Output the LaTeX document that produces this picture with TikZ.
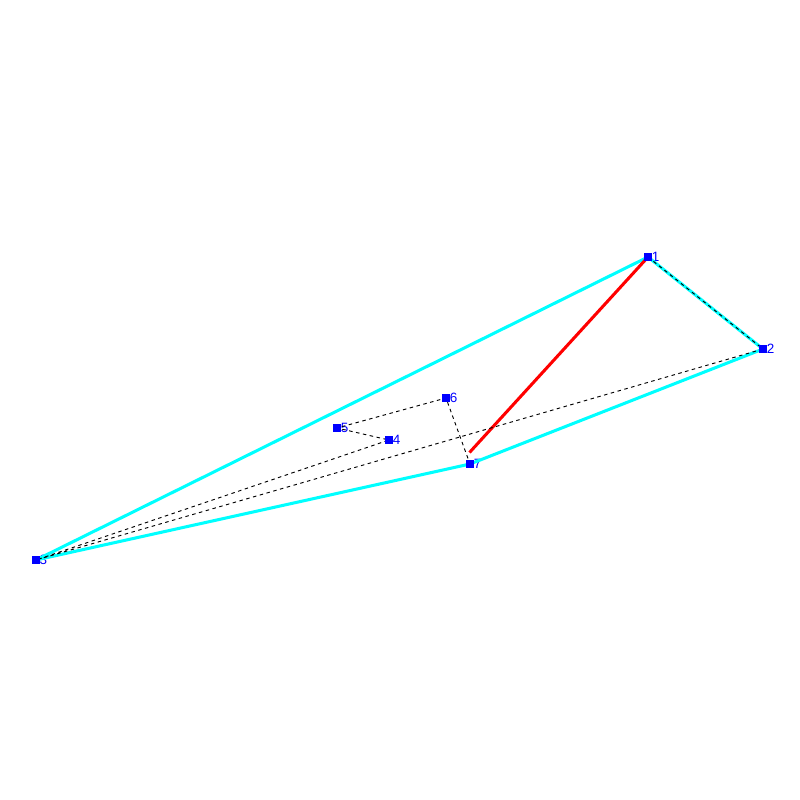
\documentclass[tikz,border=0pt]{standalone}
\usepackage{fontspec}
\setmainfont{Liberation Sans}
\usepackage{tikz}

\definecolor{aqua}{RGB}{0,255,255}
\definecolor{ptblue}{RGB}{0,0,255}
\definecolor{cutred}{RGB}{255,0,0}

\tikzset{
  pt/.style={fill=ptblue, minimum size=6pt, inner sep=0pt, outer sep=0pt,
    label={[text=ptblue, font=\fontsize{11.5}{11.5}\selectfont, inner sep=0.5pt, xshift=-0.5pt]right:#1}},
  hull/.style={aqua, line width=2.6pt},
  cut/.style={cutred, line width=2.6pt},
  link/.style={black, line width=0.8pt, dash pattern=on 3pt off 3pt},
}

\begin{document}
\begin{tikzpicture}[x=0.03cm, y=-0.03cm]
  \useasboundingbox (0,0) rectangle (800,800);
  \node[pt=1] (p1) at (648,257) {};
  \node[pt=2] (p2) at (763,349) {};
  \node[pt=3] (p3) at (36,560) {};
  \node[pt=4] (p4) at (389,440) {};
  \node[pt=5] (p5) at (337,428) {};
  \node[pt=6] (p6) at (446,398) {};
  \node[pt=7] (p7) at (470,464) {};
  \coordinate (e) at (469.5,452.5);
  % hull
  \draw[hull] (p3.center) -- (p1.center) -- (p2.center) -- (p7.center) -- (p3.center);
  \draw[cut] (p1.center) -- (e);
  % dashed links
  \draw[link] (p1.center) -- (p2.center) -- (p3.center) -- (p4.center) -- (p5.center)
    -- (p6.center) -- (p7.center);
  \foreach \p in {p1,p2,p3,p4,p5,p6,p7}
    \fill[ptblue] (\p) +(-3pt,-3pt) rectangle +(3pt,3pt);
\end{tikzpicture}
\end{document}
